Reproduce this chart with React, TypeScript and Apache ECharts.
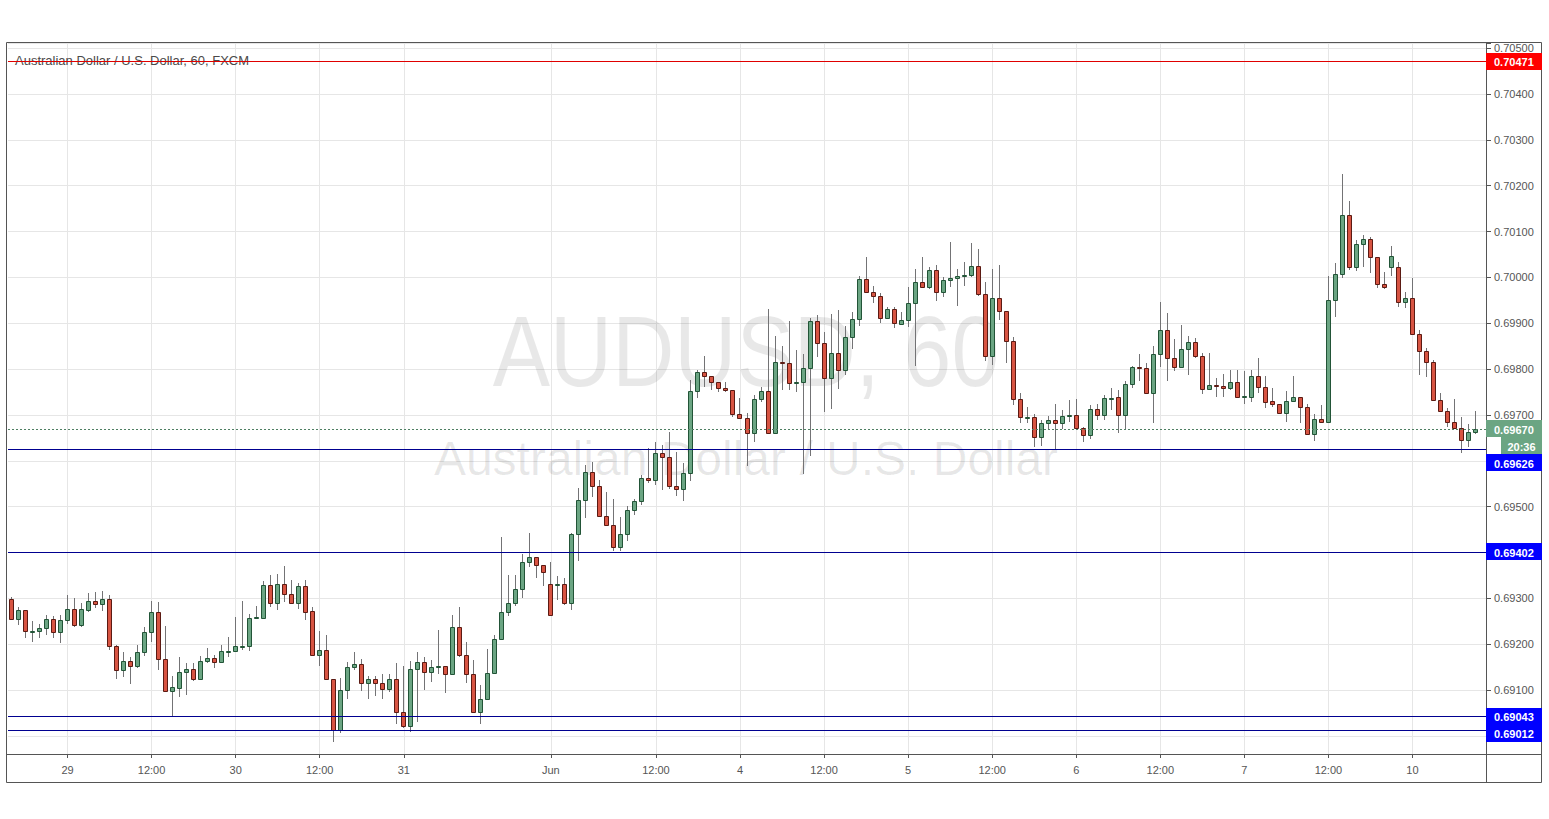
import React, { useEffect, useRef } from 'react';
import * as echarts from 'echarts';

// ---- DATA: hourly candles, each [open, close, low, high] ----
const may28 = [
  [0.69299, 0.69255, 0.69253, 0.69304], [0.69255, 0.69275, 0.69241, 0.69282], [0.69274, 0.69228, 0.69213, 0.69275],
  [0.69228, 0.69229, 0.69204, 0.6925], [0.69228, 0.69236, 0.69213, 0.69245], [0.69236, 0.69256, 0.69221, 0.69263],
  [0.69255, 0.69226, 0.69213, 0.69262], [0.69226, 0.69253, 0.69202, 0.69264],
];
const may29 = [
  [0.69252, 0.69277, 0.69245, 0.69308], [0.69277, 0.69241, 0.69238, 0.69301], [0.69241, 0.69277, 0.69237, 0.69289],
  [0.69275, 0.69294, 0.69271, 0.69311], [0.69294, 0.69288, 0.69278, 0.69314], [0.69288, 0.69299, 0.69273, 0.69317],
  [0.69299, 0.69197, 0.69188, 0.69308], [0.69197, 0.69143, 0.69125, 0.69198], [0.69143, 0.69164, 0.69129, 0.69182],
  [0.69164, 0.69153, 0.69113, 0.69171], [0.69153, 0.69183, 0.69149, 0.69199], [0.69183, 0.69226, 0.69175, 0.69237],
  [0.69226, 0.6927, 0.69205, 0.69295], [0.6927, 0.69167, 0.69144, 0.69291], [0.69167, 0.69098, 0.69098, 0.6924],
  [0.69098, 0.69106, 0.69043, 0.6913], [0.69105, 0.69139, 0.69084, 0.69171], [0.69139, 0.69145, 0.69089, 0.69159],
  [0.69145, 0.69124, 0.6912, 0.69158], [0.69124, 0.69164, 0.69124, 0.69175], [0.69164, 0.69169, 0.69158, 0.69192],
  [0.69169, 0.69161, 0.69149, 0.69177], [0.69161, 0.69186, 0.69158, 0.69199], [0.69185, 0.69186, 0.69171, 0.69215],
];
const may30 = [
  [0.69186, 0.69196, 0.69185, 0.6926], [0.69195, 0.69196, 0.69188, 0.69295], [0.69195, 0.69257, 0.69185, 0.69266],
  [0.69257, 0.69259, 0.69255, 0.69284], [0.69258, 0.6933, 0.69256, 0.69338], [0.6933, 0.6929, 0.69282, 0.6935],
  [0.6929, 0.69332, 0.69275, 0.69354], [0.69332, 0.69309, 0.69293, 0.6937], [0.69309, 0.6929, 0.69287, 0.6934],
  [0.6929, 0.69327, 0.69276, 0.69334], [0.69327, 0.69271, 0.69253, 0.6934], [0.69272, 0.69176, 0.69176, 0.69282],
  [0.69176, 0.69188, 0.69153, 0.69228], [0.69188, 0.69124, 0.69124, 0.69219], [0.69124, 0.69012, 0.68987, 0.69124],
  [0.69012, 0.691, 0.69006, 0.69126], [0.691, 0.6915, 0.6908, 0.69162], [0.6915, 0.69156, 0.69144, 0.69182],
  [0.69156, 0.69115, 0.69098, 0.69167], [0.69115, 0.69124, 0.6908, 0.6913], [0.69124, 0.69115, 0.69087, 0.6913],
  [0.69115, 0.69102, 0.69081, 0.69135], [0.69102, 0.69125, 0.69095, 0.69136], [0.69125, 0.69052, 0.69025, 0.69158],
];
const may31 = [
  [0.69052, 0.69021, 0.69018, 0.69153], [0.69021, 0.69145, 0.69009, 0.69163], [0.69145, 0.69162, 0.69031, 0.69182],
  [0.69162, 0.69139, 0.691, 0.69173], [0.69139, 0.6915, 0.69118, 0.69166], [0.6915, 0.69152, 0.69134, 0.6923],
  [0.69152, 0.69134, 0.69093, 0.69152], [0.69134, 0.69237, 0.69133, 0.69264], [0.69237, 0.69176, 0.69173, 0.69282],
  [0.69176, 0.69134, 0.69115, 0.69204], [0.69134, 0.69052, 0.69052, 0.69166], [0.69052, 0.6908, 0.69025, 0.69111],
  [0.6908, 0.69138, 0.6908, 0.69189], [0.69138, 0.69211, 0.69138, 0.6922], [0.69211, 0.6927, 0.69211, 0.69434],
  [0.6927, 0.6929, 0.69261, 0.6935], [0.6929, 0.6932, 0.69283, 0.69351], [0.6932, 0.69379, 0.693, 0.69397],
  [0.69379, 0.6939, 0.69369, 0.69442], [0.6939, 0.69372, 0.69344, 0.6939], [0.69372, 0.69358, 0.69327, 0.69372],
];
const jun2 = [
  [0.69331, 0.69263, 0.69263, 0.69379], [0.6933, 0.69332, 0.69297, 0.69348], [0.69331, 0.69289, 0.69286, 0.69344],
];
const jun3 = [
  [0.69289, 0.69441, 0.69275, 0.69443], [0.69441, 0.69515, 0.69382, 0.6954], [0.69515, 0.69575, 0.69475, 0.6959],
  [0.69575, 0.69544, 0.69522, 0.69597], [0.69544, 0.6948, 0.6948, 0.69559], [0.6948, 0.69461, 0.69461, 0.69531],
  [0.69461, 0.69411, 0.69404, 0.69517], [0.69411, 0.69441, 0.69404, 0.69477], [0.69441, 0.69492, 0.69426, 0.69501],
  [0.69492, 0.69512, 0.69482, 0.69517], [0.69512, 0.69562, 0.69504, 0.6957], [0.69562, 0.69558, 0.69551, 0.69627],
  [0.69558, 0.69616, 0.69547, 0.69642], [0.69616, 0.69609, 0.69536, 0.69634], [0.69609, 0.69544, 0.69538, 0.69663],
  [0.69544, 0.69539, 0.69523, 0.6962], [0.69539, 0.69573, 0.69513, 0.69595], [0.69573, 0.69753, 0.69555, 0.69776],
  [0.69753, 0.69793, 0.69737, 0.69798], [0.69793, 0.69784, 0.69762, 0.69829], [0.69784, 0.69771, 0.69755, 0.69784],
  [0.69771, 0.69758, 0.69751, 0.69771], [0.69758, 0.69754, 0.69751, 0.69771], [0.69754, 0.69702, 0.69696, 0.69754],
];
const jun4 = [
  [0.69703, 0.69694, 0.69693, 0.69737], [0.69694, 0.6966, 0.69589, 0.69704], [0.6966, 0.69734, 0.6964, 0.69744],
  [0.69734, 0.69753, 0.69729, 0.6976], [0.69753, 0.69661, 0.6966, 0.69932], [0.69661, 0.69815, 0.69661, 0.69872],
  [0.69815, 0.69814, 0.69755, 0.6985], [0.69814, 0.6977, 0.69755, 0.69905], [0.6977, 0.69771, 0.69749, 0.69842],
  [0.69771, 0.69802, 0.69571, 0.69833], [0.69802, 0.69905, 0.6961, 0.69911], [0.69905, 0.69856, 0.69826, 0.69918],
  [0.69856, 0.6978, 0.69706, 0.69881], [0.6978, 0.69835, 0.69712, 0.6992], [0.69835, 0.69798, 0.69756, 0.69929],
  [0.69798, 0.69869, 0.69787, 0.69894], [0.69869, 0.69909, 0.69843, 0.69925], [0.69909, 0.69996, 0.69893, 0.70002],
  [0.69996, 0.69969, 0.69965, 0.70044], [0.69969, 0.6996, 0.69944, 0.69981], [0.6996, 0.69911, 0.69901, 0.69965],
  [0.69911, 0.69932, 0.69909, 0.69936], [0.69932, 0.699, 0.6989, 0.69936], [0.69898, 0.69907, 0.69896, 0.69924],
];
const jun5 = [
  [0.69907, 0.69944, 0.69891, 0.6998], [0.69944, 0.69989, 0.69807, 0.70018], [0.69989, 0.69979, 0.69976, 0.70045],
  [0.69979, 0.70016, 0.69974, 0.70023], [0.70016, 0.69969, 0.69949, 0.70027], [0.69969, 0.69994, 0.69958, 0.70001],
  [0.69994, 0.69999, 0.6998, 0.70078], [0.69999, 0.70004, 0.69938, 0.70018], [0.70004, 0.70006, 0.69981, 0.70034],
  [0.70006, 0.70025, 0.70001, 0.70076], [0.70025, 0.69963, 0.69959, 0.70062], [0.69963, 0.69829, 0.69817, 0.69991],
  [0.69829, 0.69956, 0.69809, 0.70018], [0.69956, 0.69927, 0.69906, 0.70027], [0.69927, 0.69862, 0.69813, 0.69927],
  [0.69862, 0.69734, 0.69722, 0.69869], [0.69734, 0.69695, 0.69683, 0.69747], [0.69695, 0.69696, 0.69682, 0.69718],
  [0.69695, 0.69652, 0.6963, 0.69702], [0.69652, 0.69682, 0.69632, 0.69688], [0.69682, 0.69689, 0.69669, 0.69698],
  [0.69689, 0.69682, 0.69625, 0.69724], [0.69682, 0.69698, 0.69669, 0.69711], [0.69698, 0.697, 0.69685, 0.69733],
];
const jun6 = [
  [0.697, 0.69671, 0.69669, 0.69734], [0.69671, 0.69656, 0.6964, 0.69674], [0.69656, 0.69712, 0.69647, 0.69722],
  [0.69712, 0.697, 0.69688, 0.69724], [0.697, 0.69736, 0.69689, 0.69744], [0.69736, 0.69737, 0.69711, 0.69758],
  [0.69739, 0.69699, 0.6966, 0.69755], [0.69699, 0.69767, 0.69667, 0.69773], [0.69767, 0.69804, 0.69758, 0.69807],
  [0.69804, 0.69803, 0.69773, 0.69833], [0.69802, 0.69748, 0.69748, 0.69814], [0.69748, 0.69832, 0.69683, 0.69851],
  [0.69832, 0.69886, 0.69804, 0.69947], [0.69886, 0.69825, 0.69773, 0.69922], [0.69825, 0.69804, 0.69795, 0.69865],
  [0.69804, 0.69844, 0.69804, 0.69897], [0.69844, 0.69859, 0.69787, 0.69872], [0.69859, 0.69828, 0.69825, 0.69868],
  [0.69828, 0.69756, 0.69745, 0.69835], [0.69756, 0.69766, 0.69755, 0.69836], [0.69765, 0.69764, 0.69739, 0.6978],
  [0.69763, 0.69758, 0.6974, 0.6979], [0.69758, 0.69772, 0.69755, 0.69797], [0.69772, 0.6974, 0.69739, 0.69797],
];
const jun7 = [
  [0.6974, 0.69741, 0.69724, 0.69795], [0.6974, 0.69786, 0.69729, 0.69799], [0.69786, 0.69762, 0.69747, 0.69825],
  [0.69762, 0.69729, 0.69715, 0.69786], [0.69731, 0.69723, 0.69718, 0.69758], [0.69723, 0.69704, 0.69702, 0.69723],
  [0.69704, 0.69731, 0.69685, 0.69753], [0.69731, 0.69739, 0.69729, 0.69786], [0.69739, 0.69718, 0.69682, 0.69739],
  [0.69718, 0.69658, 0.69656, 0.69724], [0.69658, 0.69691, 0.69643, 0.69702], [0.69691, 0.69685, 0.69683, 0.69722],
  [0.69685, 0.69951, 0.69682, 0.70002], [0.69951, 0.70007, 0.69913, 0.70032], [0.70007, 0.70136, 0.69998, 0.70226],
  [0.70136, 0.70022, 0.70016, 0.70167], [0.70022, 0.70072, 0.70013, 0.70082], [0.70072, 0.70083, 0.70022, 0.70092],
  [0.70083, 0.70044, 0.70009, 0.70087], [0.70044, 0.69985, 0.69976, 0.70044], [0.69985, 0.6998, 0.69974, 0.70011],
];
const jun9 = [
  [0.70022, 0.70047, 0.70002, 0.70069], [0.70022, 0.69947, 0.69936, 0.70034], [0.69947, 0.69955, 0.69933, 0.69969],
];
const jun10 = [
  [0.69955, 0.69876, 0.69874, 0.69998], [0.69876, 0.6984, 0.69788, 0.69885], [0.6984, 0.69815, 0.69783, 0.69845],
  [0.69815, 0.69733, 0.69731, 0.6982], [0.69733, 0.69708, 0.69708, 0.69748], [0.69708, 0.69685, 0.69674, 0.69716],
  [0.69685, 0.69672, 0.69671, 0.69735], [0.69672, 0.69646, 0.69618, 0.69695], [0.69646, 0.69663, 0.6963, 0.6968],
  [0.69663, 0.6967, 0.69658, 0.69709],
];

const sessionDates = ['05-28', '05-29', '05-30', '05-31', '06-02', '06-03', '06-04', '06-05', '06-06', '06-07', '06-09', '06-10'];
const sessionStartHours = [16, 0, 0, 0, 21, 0, 0, 0, 0, 0, 21, 0];

// time-axis tick labels
const tickKeys = [
  '05-29 00:00', '05-29 12:00', '05-30 00:00', '05-30 12:00', '05-31 00:00', '06-02 21:00', '06-03 12:00', '06-04 00:00',
  '06-04 12:00', '06-05 00:00', '06-05 12:00', '06-06 00:00', '06-06 12:00', '06-07 00:00', '06-07 12:00', '06-10 00:00',
];
const tickTexts = ['29', '12:00', '30', '12:00', '31', 'Jun', '12:00', '4', '12:00', '5', '12:00', '6', '12:00', '7', '12:00', '10'];

// horizontal levels
const resistanceLevels = [0.70471];
const supportLevels = [0.69626, 0.69402, 0.69043, 0.69012];
const lastPrice = 0.6967;
const countdown = '20:36';
const hiddenPriceTicks = [0.696, 0.694, 0.69];

// visible price range of the pane
const priceMin = 0.689605;
const priceMax = 0.705112;

const title = 'Australian Dollar / U.S. Dollar, 60, FXCM';
const watermark1 = 'AUDUSD, 60';
const watermark2 = 'Australian Dollar / U.S. Dollar';

const FONT = '"Liberation Sans", Arial, sans-serif';
const UP = '#6ba583';
const DOWN = '#d75442';
const UP_BORDER = '#225437';
const DOWN_BORDER = '#5b1a13';
const WICK = '#737375';
const GRID = '#e6e6e6';
const FRAME = '#555555';
const LABEL = '#555555';
const RES_COLOR = '#e00000';
const SUP_COLOR = '#000090';

export default function App() {
  const ref = useRef<HTMLDivElement>(null);

  useEffect(() => {
    if (!ref.current) return;
    const chart = echarts.init(ref.current, null, { renderer: 'svg' });

    const sessions = [may28, may29, may30, may31, jun2, jun3, jun4, jun5, jun6, jun7, jun9, jun10];
    const categories: string[] = [];
    const candles: number[][] = [];
    sessions.forEach((s, k) => {
      s.forEach((c, j) => {
        const h = sessionStartHours[k] + j;
        categories.push(`${sessionDates[k]} ${String(h).padStart(2, '0')}:00`);
        candles.push(c);
      });
    });
    const axisData = [...categories, ' '];
    const tickMap: Record<string, string> = {};
    tickKeys.forEach((k, i) => (tickMap[k] = tickTexts[i]));
    const isTick = (_i: number, v: string) => tickMap[v] !== undefined;

    const data = candles.map((c, i) => [i, c[0], c[1], c[2], c[3]]);

    const option: any = {
      animation: false,
      backgroundColor: '#ffffff',
      grid: { left: 8, top: 43, right: 63, bottom: 65, containLabel: false },
      xAxis: {
        type: 'category',
        data: axisData,
        boundaryGap: true,
        axisLine: { show: false },
        axisTick: { show: true, alignWithLabel: true, length: 4, interval: isTick, lineStyle: { color: FRAME } },
        axisLabel: {
          interval: isTick,
          formatter: (v: string) => tickMap[v] ?? '',
          color: LABEL,
          fontSize: 11,
          fontFamily: FONT,
          margin: 10,
        },
        splitLine: { show: true, alignWithLabel: true, interval: isTick, lineStyle: { color: GRID, width: 1 } },
      },
      yAxis: {
        type: 'value',
        position: 'right',
        min: priceMin,
        max: priceMax,
        splitNumber: 15,
        axisLine: { show: false },
        axisTick: { show: true, length: 5, lineStyle: { color: FRAME } },
        axisLabel: {
          color: LABEL,
          fontSize: 11,
          fontFamily: FONT,
          margin: 8,
          formatter: (v: number) => {
            const k = Math.round(v * 1000);
            if (Math.abs(v * 1000 - k) > 1e-4) return '';
            if (hiddenPriceTicks.some((h) => Math.abs(h - v) < 1e-7)) return '';
            return v.toFixed(5);
          },
        },
        splitLine: { show: true, lineStyle: { color: GRID, width: 1 } },
      },
      series: [
        {
          type: 'custom',
          name: 'AUDUSD',
          data,
          encode: { x: 0, y: [1, 2, 3, 4] },
          clip: true,
          z: 3,
          renderItem: (_params: any, api: any) => {
            const i = api.value(0);
            const o = api.value(1);
            const c = api.value(2);
            const lo = api.value(3);
            const hi = api.value(4);
            const pO = api.coord([i, o]);
            const pC = api.coord([i, c]);
            const pL = api.coord([i, lo]);
            const pH = api.coord([i, hi]);
            const cx = Math.floor(pO[0]) + 0.5;
            const up = c >= o;
            const top = Math.round(Math.min(pO[1], pC[1])) + 0.5;
            let bot = Math.round(Math.max(pO[1], pC[1])) + 0.5;
            if (bot - top < 1) bot = top + 1;
            return {
              type: 'group',
              children: [
                {
                  type: 'line',
                  shape: { x1: cx, y1: Math.round(pH[1]), x2: cx, y2: Math.round(pL[1]) },
                  style: { stroke: WICK, lineWidth: 1 },
                },
                {
                  type: 'rect',
                  shape: { x: cx - 2, y: top, width: 4, height: bot - top },
                  style: { fill: up ? UP : DOWN, stroke: up ? UP_BORDER : DOWN_BORDER, lineWidth: 1 },
                },
              ],
            };
          },
        },
      ],
    };

    chart.setOption(option);

    const yOf = (v: number) => chart.convertToPixel({ yAxisIndex: 0 }, v) as number;
    const plotLeft = 8;
    const axisX = 1486;
    const boxW = 56;
    const boxH = 17;
    const g: any[] = [];

    // watermark
    g.push({
      type: 'text', z: 0, silent: true, x: 746, y: 352, scaleX: 0.86,
      style: { text: watermark1, fontSize: 100, fontFamily: FONT, fill: 'rgba(0,0,0,0.09)', align: 'center', verticalAlign: 'middle', textAlign: 'center', textVerticalAlign: 'middle' },
    });
    g.push({
      type: 'text', z: 0, silent: true, x: 746, y: 458,
      style: { text: watermark2, fontSize: 48, fontFamily: FONT, fill: 'rgba(0,0,0,0.09)', align: 'center', verticalAlign: 'middle', textAlign: 'center', textVerticalAlign: 'middle' },
    });
    // title
    g.push({
      type: 'text', z: 1, silent: true, x: 15, y: 60,
      style: { text: title, fontSize: 13, fontFamily: FONT, fill: '#4a4a4a', align: 'left', verticalAlign: 'middle', textAlign: 'left', textVerticalAlign: 'middle' },
    });

    // horizontal level lines, positioned through the y axis scale
    const hLine = (v: number, color: string, dash: number[] | null) => {
      const y = Math.round(yOf(v)) + 0.5;
      const style: any = { stroke: color, lineWidth: 1 };
      if (dash) style.lineDash = dash;
      g.push({
        type: 'line', z: 5, silent: true,
        shape: { x1: plotLeft, y1: y, x2: axisX, y2: y },
        style,
      });
    };
    resistanceLevels.forEach((v) => hLine(v, RES_COLOR, null));
    supportLevels.forEach((v) => hLine(v, SUP_COLOR, null));
    hLine(lastPrice, '#4f7f63', [2, 2]);

    // frame
    g.push({ type: 'rect', z: 10, silent: true, shape: { x: 6.5, y: 42.5, width: 1535, height: 740 }, style: { fill: 'none', stroke: FRAME, lineWidth: 1 } });
    g.push({ type: 'line', z: 10, silent: true, shape: { x1: axisX + 0.5, y1: 42.5, x2: axisX + 0.5, y2: 782.5 }, style: { stroke: FRAME, lineWidth: 1 } });
    g.push({ type: 'line', z: 10, silent: true, shape: { x1: 6.5, y1: 754.5, x2: 1541.5, y2: 754.5 }, style: { stroke: FRAME, lineWidth: 1 } });

    const addBox = (cy: number, text: string, bg: string, x0 = axisX, w = boxW) => {
      g.push({ type: 'rect', z: 20, silent: true, shape: { x: x0, y: Math.round(cy - boxH / 2), width: w, height: boxH }, style: { fill: bg } });
      g.push({
        type: 'text', z: 21, silent: true, x: x0 + (x0 === axisX ? 8 : w / 2), y: Math.round(cy) + 0.5,
        style: { text, fontSize: 11, fontWeight: 'bold', fontFamily: FONT, fill: '#ffffff', align: x0 === axisX ? 'left' : 'center', verticalAlign: 'middle', textAlign: x0 === axisX ? 'left' : 'center', textVerticalAlign: 'middle' },
      });
    };

    resistanceLevels.forEach((v) => addBox(yOf(v), v.toFixed(5), '#ff0000'));
    const lastY = yOf(lastPrice);
    addBox(lastY, lastPrice.toFixed(5), UP);
    addBox(lastY + boxH, countdown, UP, 1501, 41);
    // support labels, pushed down when they would collide with the boxes above
    let prevBottom = lastY + boxH * 1.5;
    supportLevels.forEach((v) => {
      let cy = yOf(v);
      if (cy - boxH / 2 < prevBottom) cy = prevBottom + boxH / 2;
      addBox(cy, v.toFixed(5), '#0000ff');
      prevBottom = cy + boxH / 2;
    });

    chart.setOption({ graphic: g });

    return () => chart.dispose();
  }, []);

  return (
    <div
      ref={ref}
      style={{ position: 'absolute', left: 0, top: 0, width: 1549, height: 819, background: '#ffffff' }}
    />
  );
}
